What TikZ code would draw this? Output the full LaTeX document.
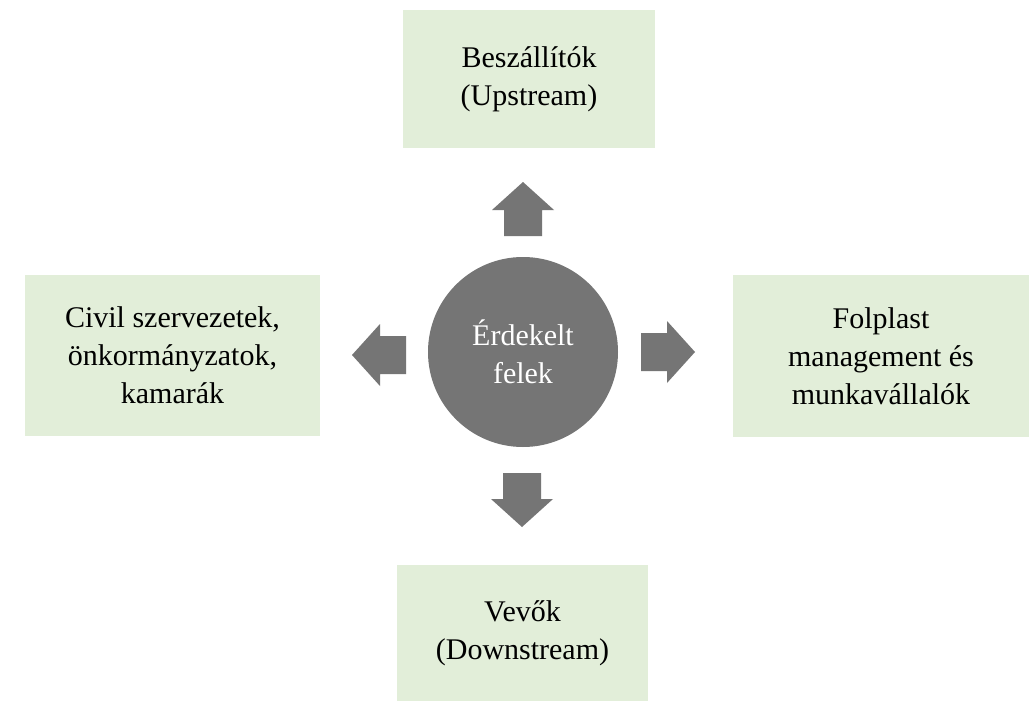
\documentclass[tikz,border=0pt]{standalone}
\usepackage{fontspec}
\setmainfont{Liberation Serif}
\definecolor{boxgreen}{HTML}{E2EED9}
\definecolor{arrowgray}{HTML}{757575}
\tikzset{
  greenbox/.style={fill=boxgreen, draw=none, inner sep=0pt, align=center, font=\fontsize{30}{38}\selectfont},
  hub/.style={circle, fill=arrowgray, draw=none, minimum size=190pt, inner sep=0pt, align=center, text=white, font=\fontsize{30}{38}\selectfont},
  blockarrow/.pic={\fill[arrowgray] (0,-19) -- (26,-19) -- (26,-31) -- (54,0) -- (26,31) -- (26,19) -- (0,19) -- cycle;}
}
\begin{document}
\begin{tikzpicture}[x=1pt,y=-1pt]
\useasboundingbox (0,0) rectangle (1029,701);
\fill[white] (0,0) rectangle (1029,701);
% boxes
\node[greenbox, minimum width=252pt, minimum height=138pt] (top) at (529,79) {Beszállítók\\(Upstream)};
\node[greenbox, minimum width=295pt, minimum height=161pt] (left) at (172.5,355.5) {Civil szervezetek,\\önkormányzatok,\\kamarák};
\node[greenbox, minimum width=296pt, minimum height=162pt] (right) at (881,356) {Folplast\\management és\\munkavállalók};
\node[greenbox, minimum width=251pt, minimum height=136pt] (bottom) at (522.5,633) {Vevők\\(Downstream)};
% hub
\node[hub] (hub) at (523,352) {Érdekelt\\felek};
% block arrows
\pic[rotate=90] (upar) at (523,236) {blockarrow};
\pic[rotate=180] (leftar) at (406,355) {blockarrow};
\pic (rightar) at (641,352) {blockarrow};
\pic[rotate=-90] (downar) at (522,473) {blockarrow};
\end{tikzpicture}
\end{document}
